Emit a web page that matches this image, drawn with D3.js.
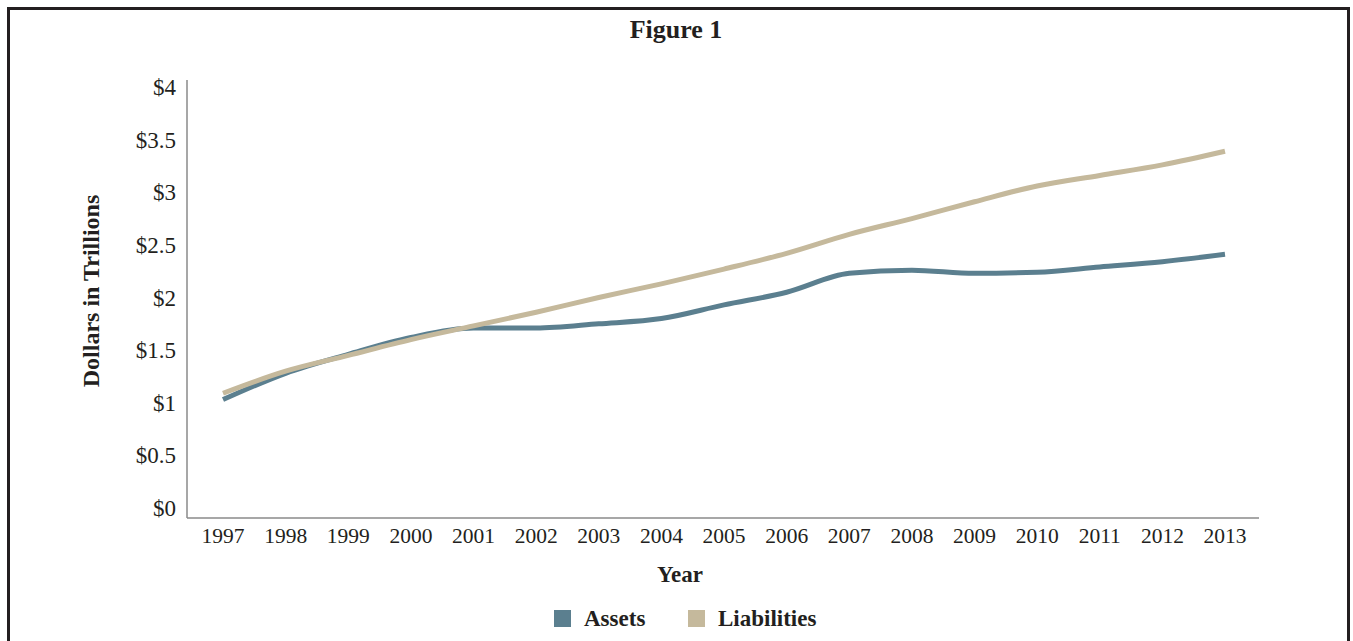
<!DOCTYPE html>
<meta charset="utf-8">
<script src="https://d3js.org/d3.v7.min.js"></script>
<style>
  body { margin: 0; background: #fff; }
  text { font-family: "Liberation Serif", "DejaVu Serif", serif; fill: #231f20; }
</style>
<body>
<div id="chart"></div>
<script>

// data (trillions of dollars)
var years = [1997, 1998, 1999, 2000, 2001, 2002, 2003, 2004, 2005, 2006, 2007, 2008, 2009, 2010, 2011, 2012, 2013]
var assets = [1.03, 1.28, 1.46, 1.62, 1.71, 1.71, 1.75, 1.80, 1.93, 2.05, 2.23, 2.26, 2.23, 2.24, 2.29, 2.34, 2.41]
var liabilities = [1.09, 1.30, 1.45, 1.60, 1.73, 1.86, 2.00, 2.13, 2.27, 2.42, 2.60, 2.75, 2.91, 3.06, 3.16, 3.26, 3.39]
var yTicks = [0, 0.5, 1, 1.5, 2, 2.5, 3, 3.5, 4]
var seriesNames = ["Assets", "Liabilities"]
var colors = ["#5b7f8f", "#c5b99c"]

var width = 1353, height = 641

var svg = d3.select("#chart").append("svg")
  .attr("width", width)
  .attr("height", height)

// frame round the figure
svg.append("rect")
  .attr("x", 8.5).attr("y", 8.5)
  .attr("width", 1340).attr("height", 700)
  .attr("fill", "none")
  .attr("stroke", "#231f20")
  .attr("stroke-width", 3)

svg.append("text")
  .attr("x", 676).attr("y", 38)
  .attr("text-anchor", "middle")
  .style("font-size", "26px").style("font-weight", "bold")
  .text("Figure 1")

var x = d3.scaleLinear().domain([1997, 2013]).range([223, 1225])
var y = d3.scaleLinear().domain([0, 4]).range([508, 87])

// axis lines (they run a little past the data range)
svg.append("line")
  .attr("x1", 187).attr("x2", 187).attr("y1", 80).attr("y2", 518)
  .attr("stroke", "#8a8a8a").attr("stroke-width", 1.5)
svg.append("line")
  .attr("x1", 187).attr("x2", 1259).attr("y1", 518).attr("y2", 518)
  .attr("stroke", "#8a8a8a").attr("stroke-width", 1.5)

// y tick labels
svg.selectAll(".ytick").data(yTicks).enter().append("text")
  .attr("class", "ytick")
  .attr("x", 176)
  .attr("y", function(d) { return y(d) })
  .attr("dy", "0.35em")
  .attr("text-anchor", "end")
  .style("font-size", "23px")
  .text(function(d) { return "$" + d })

// x tick labels
svg.selectAll(".xtick").data(years).enter().append("text")
  .attr("class", "xtick")
  .attr("x", function(d) { return x(d) })
  .attr("y", 543)
  .attr("text-anchor", "middle")
  .style("font-size", "21.5px")
  .text(function(d) { return d })

svg.append("text")
  .attr("x", 680).attr("y", 582)
  .attr("text-anchor", "middle")
  .style("font-size", "23px").style("font-weight", "bold")
  .text("Year")

svg.append("text")
  .attr("transform", "translate(99,291) rotate(-90)")
  .attr("text-anchor", "middle")
  .style("font-size", "24px").style("font-weight", "bold")
  .text("Dollars in Trillions")

var line = d3.line()
  .x(function(d, i) { return x(years[i]) })
  .y(function(d) { return y(d) })
  .curve(d3.curveMonotoneX)

svg.selectAll(".series").data([assets, liabilities]).enter().append("path")
  .attr("class", "series")
  .attr("d", line)
  .attr("fill", "none")
  .attr("stroke", function(d, i) { return colors[i] })
  .attr("stroke-width", 5)

// legend
var legendX = [554, 688]
var leg = svg.selectAll(".legend").data(seriesNames).enter().append("g")
  .attr("class", "legend")
  .attr("transform", function(d, i) { return "translate(" + legendX[i] + ",610)" })
leg.append("rect")
  .attr("width", 17).attr("height", 17)
  .attr("fill", function(d, i) { return colors[i] })
leg.append("text")
  .attr("x", 30).attr("y", 16)
  .style("font-size", "23px").style("font-weight", "bold")
  .text(function(d) { return d })

</script>
</body>
